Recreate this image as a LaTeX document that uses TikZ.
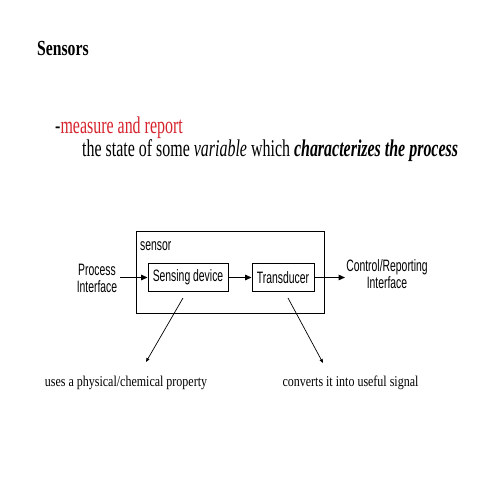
\documentclass[tikz,border=0pt]{standalone}
\usepackage{fontspec}
\setmainfont{Liberation Serif}
\newfontfamily\titlefont{Liberation Serif}[FakeStretch=0.73]
\newfontfamily\bodyfont{Liberation Serif}[FakeStretch=0.665]
\newfontfamily\notefont{Liberation Serif}[FakeStretch=0.8]
\newfontfamily\diagsans{Liberation Sans}[FakeStretch=0.63]
\usetikzlibrary{arrows.meta}
\definecolor{slidered}{RGB}{215,35,45}
\tikzset{
  box/.style={draw, line width=0.9pt, rectangle, inner sep=0pt},
  sanslbl/.style={font=\diagsans\fontsize{16.5}{17}\selectfont, inner sep=0pt},
  flow/.style={line width=1.3pt, -{Triangle[length=6.5pt,width=5.5pt]}},
  pointer/.style={line width=0.7pt, -{Triangle[length=4pt,width=3.2pt]}},
  serif/.style={inner sep=0pt},
}
\begin{document}
\begin{tikzpicture}[x=1pt,y=-1pt]
\useasboundingbox[fill=white] (0,0) rectangle (480,480);
% title and text
\node[serif, anchor=base west, font=\titlefont\bfseries\fontsize{21.5}{21.5}\selectfont] (title) at (37,55) {Sensors};
\node[serif, anchor=base west, font=\bodyfont\fontsize{24}{24}\selectfont] (line1) at (55,133) {-\textcolor{slidered}{measure and report}};
\node[serif, anchor=base west, font=\bodyfont\fontsize{24}{24}\selectfont] (line2) at (82,156.5) {the state of some \textit{variable} which \textbf{\textit{characterizes the process}}};
% diagram
\node[box, minimum width=188pt, minimum height=82pt] (sensor) at (230,272) {};
\node[sanslbl, anchor=base west] (sensorlbl) at (140,250) {sensor};
\node[box, sanslbl, minimum width=80pt, minimum height=28pt] (sd) at (188,277.5) {Sensing device};
\node[box, sanslbl, minimum width=62pt, minimum height=28pt] (td) at (283,277.5) {Transducer};
\node[sanslbl, align=center] (pi) at (97,278) {Process\\Interface};
\node[sanslbl, align=center] (cri) at (387,274) {Control/Reporting\\Interface};
\coordinate (inL) at (120,277.5);
\coordinate (outR) at (345,277.5);
\draw[flow] (inL) -- (sd.west);
\draw[flow] (sd.east) -- (td.west);
\draw[flow] (td.east) -- (outR);
% pointers
\coordinate (p1s) at (183,298);
\coordinate (p1e) at (146,362);
\coordinate (p2s) at (288,298);
\coordinate (p2e) at (323,363);
\draw[pointer] (p1s) -- (p1e);
\draw[pointer] (p2s) -- (p2e);
\node[serif, anchor=base, font=\notefont\fontsize{15}{15}\selectfont] (uses) at (126,386) {uses a physical/chemical property};
\node[serif, anchor=base, font=\notefont\fontsize{15}{15}\selectfont] (conv) at (350.5,386) {converts it into useful signal};
\end{tikzpicture}
\end{document}
